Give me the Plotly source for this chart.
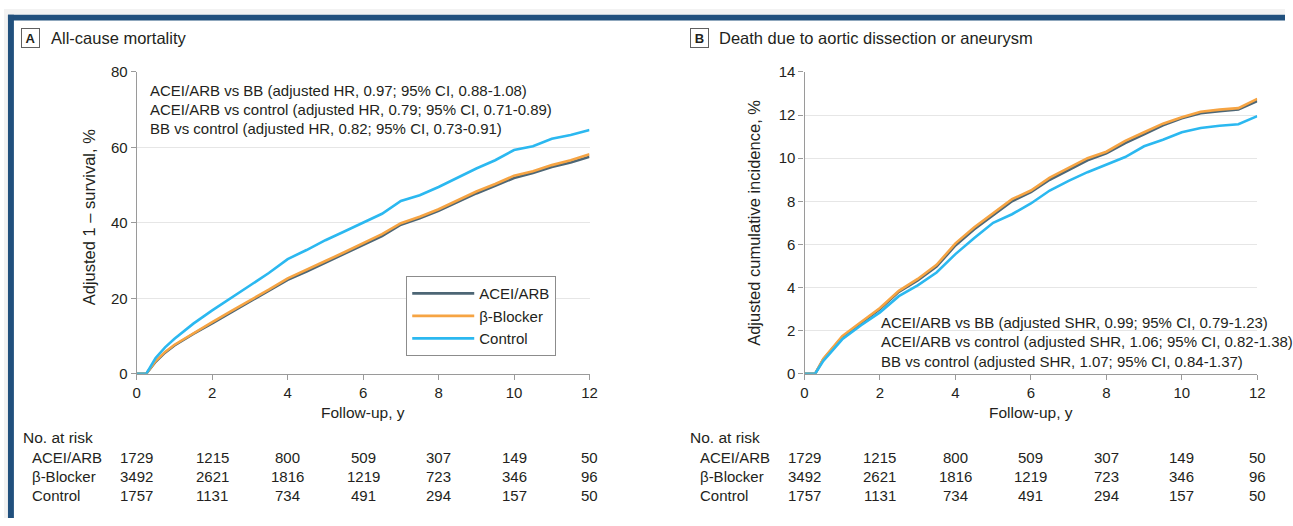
import plotly.graph_objects as go

W, H = 1293, 526
FONT = "Liberation Sans, Arial, sans-serif"
TXT = "#231f20"

# ---- Panel A: all-cause mortality (adjusted 1 - survival, %) ----
t_a = [0, 0.25, 0.5, 0.75, 1, 1.5, 2, 2.5, 3, 3.5, 4, 4.5, 5, 5.5, 6, 6.5,
       7, 7.5, 8, 8.5, 9, 9.5, 10, 10.5, 11, 11.5, 12]
acei_a = [0, 0, 3.2, 5.6, 7.5, 10.6, 13.4, 16.3, 19.1, 22.0, 24.9, 27.1, 29.5,
          31.8, 34.2, 36.5, 39.5, 41.2, 43.2, 45.5, 47.8, 49.8, 51.9, 53.2,
          54.8, 56.0, 57.5]
bb_a = [0, 0, 3.4, 5.8, 7.7, 10.8, 13.7, 16.6, 19.4, 22.3, 25.3, 27.5, 29.9,
        32.2, 34.6, 37.0, 39.9, 41.6, 43.6, 46.0, 48.3, 50.3, 52.5, 53.7,
        55.3, 56.6, 58.2]
ctrl_a = [0, 0, 4.2, 7.0, 9.3, 13.3, 16.8, 20.2, 23.4, 26.7, 30.4, 32.8, 35.4,
          37.7, 40.0, 42.4, 45.8, 47.3, 49.5, 52.0, 54.4, 56.6, 59.3, 60.3,
          62.3, 63.3, 64.6]

# ---- Panel B: death due to aortic dissection or aneurysm (cumulative incidence, %) ----
t_b = [0, 0.28, 0.5, 0.75, 1, 1.5, 2, 2.5, 3, 3.5, 4, 4.5, 5, 5.5, 6, 6.5,
       7, 7.5, 8, 8.5, 9, 9.5, 10, 10.5, 11, 11.5, 12]
acei_b = [0, 0, 0.68, 1.17, 1.7, 2.35, 3.0, 3.8, 4.33, 4.97, 5.95, 6.7, 7.35,
          8.0, 8.42, 9.0, 9.45, 9.9, 10.22, 10.7, 11.1, 11.52, 11.85, 12.08,
          12.18, 12.26, 12.65]
bb_b = [0, 0, 0.7, 1.2, 1.75, 2.4, 3.05, 3.85, 4.4, 5.05, 6.05, 6.8, 7.45,
        8.1, 8.5, 9.1, 9.55, 10.0, 10.3, 10.8, 11.2, 11.6, 11.9, 12.15,
        12.25, 12.32, 12.75]
ctrl_b = [0, 0, 0.6, 1.1, 1.6, 2.25, 2.85, 3.6, 4.1, 4.7, 5.55, 6.3, 7.0,
          7.4, 7.9, 8.5, 8.95, 9.35, 9.7, 10.05, 10.55, 10.85, 11.2, 11.4,
          11.5, 11.57, 11.95]

groups = ["ACEI/ARB", "β-Blocker", "Control"]
colors = ["#4d6675", "#f6a443", "#2bb8f0"]

# Numbers at risk (columns at 0, 2, 4, ..., 12 y)
risk_times = [0, 2, 4, 6, 8, 10, 12]
risk_acei = [1729, 1215, 800, 509, 307, 149, 50]
risk_bb = [3492, 2621, 1816, 1219, 723, 346, 96]
risk_ctrl = [1757, 1131, 734, 491, 294, 157, 50]

notes_a = ["ACEI/ARB vs BB (adjusted HR, 0.97; 95% CI, 0.88-1.08)",
           "ACEI/ARB vs control (adjusted HR, 0.79; 95% CI, 0.71-0.89)",
           "BB vs control (adjusted HR, 0.82; 95% CI, 0.73-0.91)"]
notes_b = ["ACEI/ARB vs BB (adjusted SHR, 0.99; 95% CI, 0.79-1.23)",
           "ACEI/ARB vs control (adjusted SHR, 1.06; 95% CI, 0.82-1.38)",
           "BB vs control (adjusted SHR, 1.07; 95% CI, 0.84-1.37)"]


def px(x):
    return x / W


def py(y):
    return 1 - y / H


fig = go.Figure()

for name, ys, c in zip(groups, [acei_a, bb_a, ctrl_a], colors):
    fig.add_trace(go.Scatter(x=t_a, y=ys, name=name, mode="lines",
                             line=dict(color=c, width=2.6), xaxis="x", yaxis="y"))
for name, ys, c in zip(groups, [acei_b, bb_b, ctrl_b], colors):
    fig.add_trace(go.Scatter(x=t_b, y=ys, name=name, mode="lines", showlegend=False,
                             line=dict(color=c, width=2.6), xaxis="x2", yaxis="y2"))

ydom = [py(377), py(65)]
axis_common = dict(showline=True, linecolor="#9a9a9a", linewidth=1.2,
                   ticks="outside", ticklen=5, tickcolor="#9a9a9a",
                   tickfont=dict(size=15, color=TXT, family=FONT), zeroline=False)

fig.update_layout(
    width=W, height=H, margin=dict(l=0, r=0, t=0, b=0),
    paper_bgcolor="white", plot_bgcolor="white",
    font=dict(family=FONT, color=TXT),
    xaxis=dict(domain=[px(134), px(591)], range=[0, 12], dtick=2, showgrid=False,
               anchor="y", **axis_common),
    yaxis=dict(domain=ydom, range=[0, 80], dtick=20, showgrid=True,
               gridcolor="#e6e6e6", gridwidth=1.2, anchor="x", **axis_common),
    xaxis2=dict(domain=[px(808), px(1265)], range=[0, 12], dtick=2, showgrid=False,
                anchor="y2", **axis_common),
    yaxis2=dict(domain=ydom, range=[0, 14], dtick=2, showgrid=True,
                gridcolor="#e6e6e6", gridwidth=1.2, anchor="x2", **axis_common),
    legend=dict(x=px(406), y=py(276), xanchor="left", yanchor="top",
                bordercolor="#8c8c8c", borderwidth=1, bgcolor="white",
                font=dict(size=15, color=TXT, family=FONT),
                itemwidth=62, tracegroupgap=0),
    showlegend=True,
)

ann = []


def text(x, y, s, size=15, xanchor="left", xref="paper", **kw):
    ann.append(dict(x=x, y=y, xref=xref, yref="paper", text=s, showarrow=False,
                    xanchor=xanchor, yanchor="middle",
                    font=dict(size=size, color=TXT, family=FONT), **kw))


# Panel headers
for letter, bx, title, tx in [("A", 26.5, "All-cause mortality", 45),
                              ("B", 702.5, "Death due to aortic dissection or aneurysm", 720)]:
    ann.append(dict(x=px(bx), y=py(30), xref="paper", yref="paper",
                    text="<b>%s</b>" % letter, showarrow=False,
                    xanchor="center", yanchor="middle", width=17, height=18,
                    borderpad=0, bordercolor="#606060", borderwidth=1,
                    font=dict(size=13, color=TXT, family=FONT)))
    text(px(tx), py(30), title, size=16.5)

# Hazard ratio notes
for i, s in enumerate(notes_a):
    text(px(145), py(84 + 20 * i), s, size=15)
for i, s in enumerate(notes_b):
    text(px(883), py(324 + 20 * i), s, size=15)

# Axis titles
text(px(86), py(215), "Adjusted 1 – survival, %", size=16.5, xanchor="center", textangle=-90)
text(px(757), py(221), "Adjusted cumulative incidence, %", size=16.5, xanchor="center",
     textangle=-90)
text(px(362.5), py(417), "Follow-up, y", size=15.5, xanchor="center")
text(px(1036.5), py(417), "Follow-up, y", size=15.5, xanchor="center")

# Numbers at risk tables
for xr, head_x, lab_x in [("x", 17, 26), ("x2", 690, 700)]:
    text(px(head_x), py(443), "No. at risk", size=15.5)
    for j, (lab, vals) in enumerate(zip(groups, [risk_acei, risk_bb, risk_ctrl])):
        yy = py(463 + 20 * j)
        text(px(lab_x), yy, lab, size=15)
        for tt, v in zip(risk_times, vals):
            text(tt, yy, str(v), size=15, xanchor="center", xref=xr)

fig.update_layout(annotations=ann)

# Page frame: light margin strip and dark blue border at top and left
shapes = [
    dict(type="rect", xref="paper", yref="paper", x0=0, x1=1, y0=py(6), y1=1,
         fillcolor="#f2f2f2", line=dict(width=0), layer="below"),
    dict(type="rect", xref="paper", yref="paper", x0=0, x1=px(4), y0=0, y1=1,
         fillcolor="#f2f2f2", line=dict(width=0), layer="below"),
    dict(type="rect", xref="paper", yref="paper", x0=px(4), x1=1, y0=py(12), y1=py(6),
         fillcolor="#21507d", line=dict(width=0)),
    dict(type="rect", xref="paper", yref="paper", x0=px(4), x1=px(10), y0=0, y1=py(6),
         fillcolor="#21507d", line=dict(width=0)),
]
fig.update_layout(shapes=shapes)

fig.write_html("out.html")
